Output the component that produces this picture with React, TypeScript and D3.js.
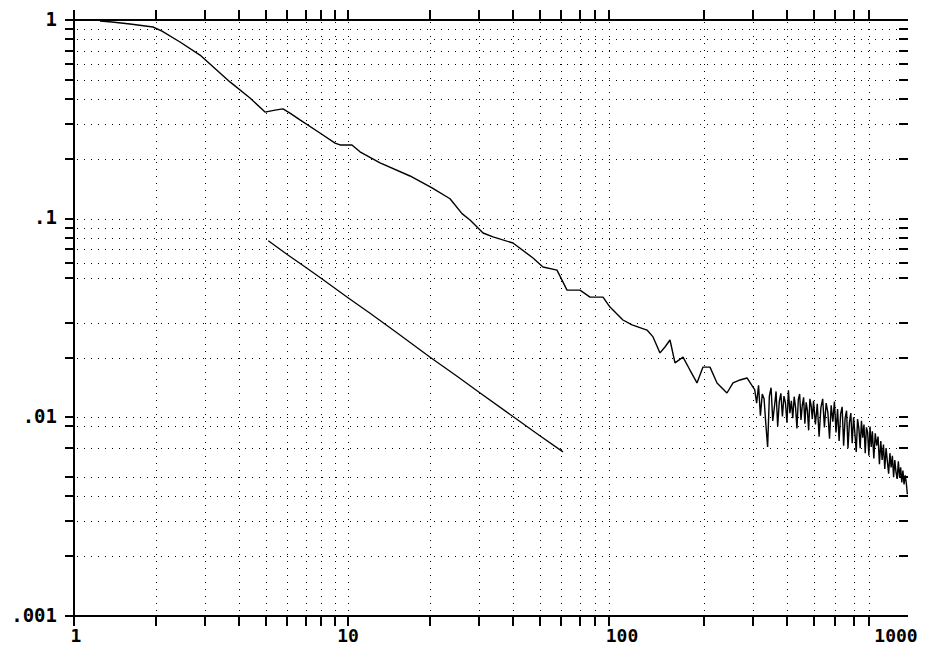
import React from "react";
import * as d3 from "d3";

const xGridTicks = [2, 3, 4, 5, 6, 7, 8, 9, 10, 20, 30, 40, 50, 60, 70, 80, 90, 200, 300, 400, 500, 600, 700, 800];
const yGridTicks = [0.9, 0.8, 0.7, 0.6, 0.5, 0.4, 0.3, 0.2, 0.1, 0.09, 0.08, 0.07, 0.06, 0.05, 0.03, 0.02, 0.01, 0.009, 0.007, 0.005, 0.004, 0.003, 0.002];
const xLabelValues = [1, 10, 100, 1000];
const xLabelTexts = ["1", "10", "100", "1000"];
const yLabelValues = [1, 0.1, 0.01, 0.001];
const yLabelTexts = ["1", ".1", ".01", ".001"];

const upperX = [1.244, 1.376, 1.601, 1.942, 2.095, 2.437, 2.883, 3.709, 4.389, 4.98, 5.415, 5.79, 6.14, 6.68, 7.9, 8.97, 9.35, 10.34, 11.06, 13.09, 16.84, 20.26, 23.57, 26.07, 27.88, 31.1, 33.82, 40.02, 47.33, 51.48, 57.91, 63.0, 70.27, 76.43, 85.24, 90.41, 100.8, 108.8, 123.4, 129.8, 137.6, 143.5, 149.7, 156.1, 167, 177, 187.8, 197.5, 209.5, 222.2, 241.6, 254.2, 269.6, 285.9, 300.7,
  305, 310, 315, 320, 325, 330, 335, 340, 345, 350, 355, 360, 365, 370, 375, 380, 385, 390, 395, 400,
  405, 410, 415, 420, 425, 430, 435, 440, 445, 450, 455, 460, 465, 470, 475, 480, 485, 490, 495, 500,
  508, 516, 524, 532, 540, 548, 556, 564, 572, 580, 588, 596, 604, 612, 620, 628, 636, 644, 652, 660,
  668, 676, 684, 692, 700, 708, 716, 724, 732, 740, 748, 756, 764, 772, 780, 788, 796, 804, 812, 820,
  830, 840, 850, 860, 870, 880, 890, 900, 910, 920, 930, 940, 950, 960, 970, 980, 990, 1000, 1010, 1020,
  1030, 1040, 1050, 1060, 1070, 1080, 1090, 1100];
const upperY = [0.988, 0.977, 0.955, 0.922, 0.88, 0.775, 0.666, 0.488, 0.405, 0.344, 0.352, 0.357, 0.34, 0.314, 0.27, 0.24, 0.235, 0.235, 0.217, 0.191, 0.164, 0.143, 0.126, 0.106, 0.0985, 0.0847, 0.0809, 0.0754, 0.0634, 0.0571, 0.0551, 0.0437, 0.0437, 0.0403, 0.0403, 0.0359, 0.0309, 0.0292, 0.0275, 0.0254, 0.0211, 0.0226, 0.0245, 0.0188, 0.0201, 0.0173, 0.0149, 0.0179, 0.0179, 0.0149, 0.01326, 0.0149, 0.01542, 0.01578, 0.0142,
  0.0138, 0.0118, 0.0145, 0.0102, 0.0131, 0.0124, 0.0092, 0.0071, 0.0128, 0.0141, 0.0096, 0.0113, 0.0135, 0.009, 0.012, 0.0132, 0.0101, 0.0128, 0.0118, 0.0094,
  0.0137, 0.0105, 0.0121, 0.0099, 0.0127, 0.0112, 0.0088, 0.0123, 0.0131, 0.0097, 0.0115, 0.0126, 0.0093, 0.0119, 0.0108, 0.0086, 0.0124, 0.0115, 0.0098, 0.0121,
  0.0092, 0.0117, 0.008, 0.0112, 0.0124, 0.0089, 0.0118, 0.0106, 0.0078, 0.0115, 0.0095, 0.012, 0.0084, 0.011, 0.0076, 0.0104, 0.0113, 0.0072, 0.0099, 0.0108,
  0.007, 0.0094, 0.0105, 0.0074, 0.01, 0.0083, 0.0067, 0.0098, 0.0088, 0.007, 0.0096, 0.0079, 0.0092, 0.0066, 0.0089, 0.0084, 0.0064, 0.009, 0.0071, 0.0085,
  0.0062, 0.0083, 0.0072, 0.008, 0.0058, 0.0076, 0.0061, 0.0073, 0.0055, 0.007, 0.006, 0.0052, 0.0066, 0.0056, 0.0064, 0.005, 0.0061, 0.0053, 0.0049, 0.006,
  0.005, 0.0056, 0.0047, 0.0054, 0.0046, 0.0051, 0.0047, 0.0041];

const lowerX = [5.12, 6, 7, 8, 10, 12, 15, 20, 25, 30, 40, 50, 60.9];
const lowerY = [0.0775, 0.066, 0.057, 0.05, 0.04, 0.0335, 0.0268, 0.02, 0.0161, 0.0134, 0.0101, 0.0081, 0.0067];

const W = 925;
const H = 647;
const LEFT = 74;
const TOP = 20;
const BOTTOM = 616;
const RIGHT = 908;

export default function App() {
  const x = d3.scaleLog().domain([1, 1000]).range([LEFT, 896]);
  const y = d3.scaleLog().domain([0.001, 1]).range([BOTTOM, TOP]);
  const line = d3
    .line<[number, number]>()
    .x((d) => x(d[0]))
    .y((d) => y(d[1]));
  const upper: [number, number][] = upperX.map((v, i) => [v, upperY[i]]);
  const lower: [number, number][] = lowerX.map((v, i) => [v, lowerY[i]]);
  const r = (v: number) => Math.round(v) + 0.5;
  const font = "'DejaVu Sans Mono', monospace";
  const rightTicks = Array.from(new Set(yGridTicks.concat([0.1, 0.01])));

  return (
    <svg
      width={W}
      height={H}
      style={{ position: "absolute", left: 0, top: 0, background: "#fff" }}
    >
      <g shapeRendering="crispEdges">
        {xGridTicks.map((t) => (
          <line key={"gx" + t} x1={r(x(t))} x2={r(x(t))} y1={TOP + 2} y2={BOTTOM - 1} stroke="#000" strokeWidth={1} strokeDasharray="1 6" />
        ))}
        {yGridTicks.map((t) => (
          <line key={"gy" + t} x1={LEFT + 3} x2={RIGHT - 10} y1={r(y(t))} y2={r(y(t))} stroke="#000" strokeWidth={1} strokeDasharray="1 6" />
        ))}
        {rightTicks.map((t) => (
          <line key={"ry" + t} x1={RIGHT - 9} x2={RIGHT} y1={Math.round(y(t))} y2={Math.round(y(t))} stroke="#000" strokeWidth={2} />
        ))}
        {yGridTicks.concat(yLabelValues).map((t, i) => (
          <line key={"ly" + i} x1={LEFT - 9} x2={LEFT} y1={Math.round(y(t))} y2={Math.round(y(t))} stroke="#000" strokeWidth={2} />
        ))}
        {xGridTicks.map((t) => (
          <g key={"tx" + t}>
            <line x1={Math.round(x(t))} x2={Math.round(x(t))} y1={TOP - 10} y2={TOP} stroke="#000" strokeWidth={2} />
            <line x1={Math.round(x(t))} x2={Math.round(x(t))} y1={BOTTOM} y2={BOTTOM + 10} stroke="#000" strokeWidth={2} />
          </g>
        ))}
        <line x1={LEFT - 9} x2={RIGHT} y1={TOP} y2={TOP} stroke="#000" strokeWidth={2} />
        <line x1={LEFT - 9} x2={RIGHT} y1={BOTTOM} y2={BOTTOM} stroke="#000" strokeWidth={2} />
        <line x1={LEFT} x2={LEFT} y1={TOP - 10} y2={BOTTOM + 10} stroke="#000" strokeWidth={2} />
      </g>
      <path d={line(upper) || ""} fill="none" stroke="#000" strokeWidth={1.4} strokeLinejoin="bevel" />
      <path d={line(lower) || ""} fill="none" stroke="#000" strokeWidth={1.3} />
      {yLabelValues.map((v, i) => (
        <text key={"yl" + v} x={57} y={y(v)} textAnchor="end" dominantBaseline="middle" fontFamily={font} fontWeight="bold" fontSize={19} fill="#000">
          {yLabelTexts[i]}
        </text>
      ))}
      {xLabelValues.map((v, i) => (
        <text key={"xl" + v} x={x(v) + (i === 0 ? 2 : 0)} y={642} textAnchor="middle" fontFamily={font} fontWeight="bold" fontSize={18} fill="#000">
          {xLabelTexts[i]}
        </text>
      ))}
    </svg>
  );
}
